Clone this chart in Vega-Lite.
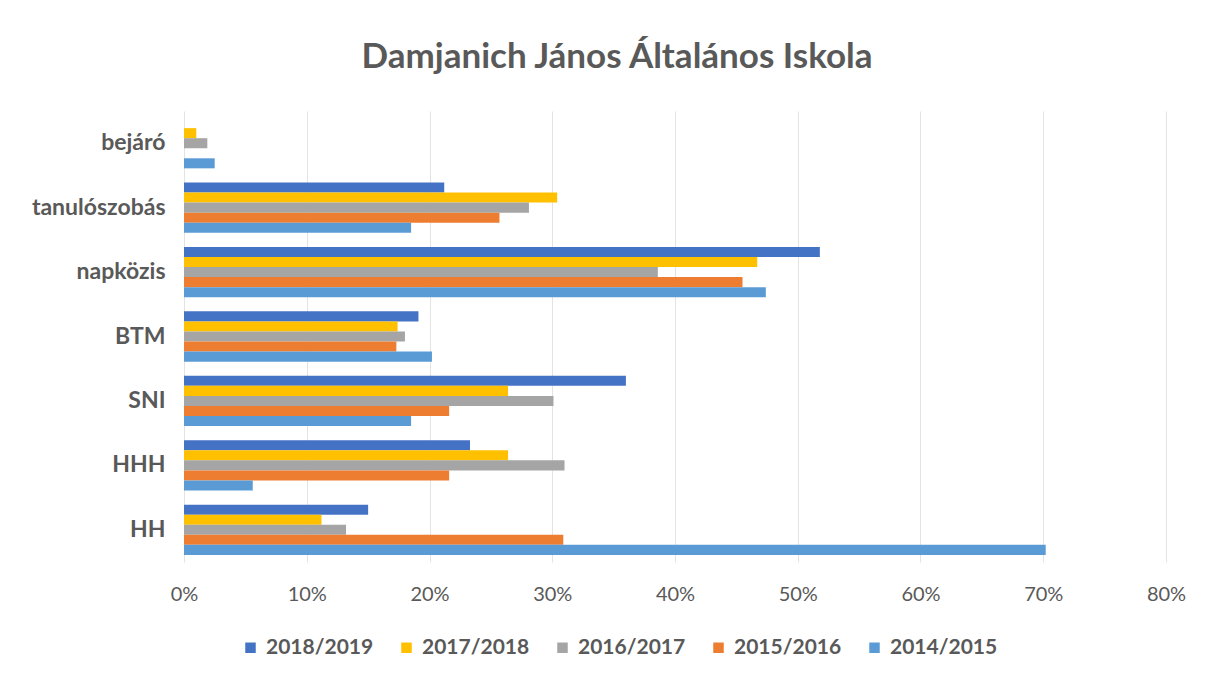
{
  "$schema": "https://vega.github.io/schema/vega-lite/v6.json",
  "width": 982,
  "height": 451,
  "autosize": {"type": "none"},
  "padding": {"left": 184, "top": 111, "right": 42, "bottom": 116},
  "background": "white",
  "title": {
    "text": "Damjanich János Általános Iskola",
    "font": "Lato",
    "fontSize": 35,
    "fontWeight": "bold",
    "color": "#595959",
    "anchor": "middle",
    "dx": -58,
    "offset": 36
  },
  "config": {
    "view": {"stroke": null},
    "font": "Lato"
  },
  "data": {
    "values": [
      {"cat": "bejáró", "year": "2017/2018", "v": 0.010},
      {"cat": "bejáró", "year": "2016/2017", "v": 0.019},
      {"cat": "bejáró", "year": "2014/2015", "v": 0.025},
      {"cat": "tanulószobás", "year": "2018/2019", "v": 0.212},
      {"cat": "tanulószobás", "year": "2017/2018", "v": 0.304},
      {"cat": "tanulószobás", "year": "2016/2017", "v": 0.281},
      {"cat": "tanulószobás", "year": "2015/2016", "v": 0.257},
      {"cat": "tanulószobás", "year": "2014/2015", "v": 0.185},
      {"cat": "napközis", "year": "2018/2019", "v": 0.518},
      {"cat": "napközis", "year": "2017/2018", "v": 0.467},
      {"cat": "napközis", "year": "2016/2017", "v": 0.386},
      {"cat": "napközis", "year": "2015/2016", "v": 0.455},
      {"cat": "napközis", "year": "2014/2015", "v": 0.474},
      {"cat": "BTM", "year": "2018/2019", "v": 0.191},
      {"cat": "BTM", "year": "2017/2018", "v": 0.174},
      {"cat": "BTM", "year": "2016/2017", "v": 0.180},
      {"cat": "BTM", "year": "2015/2016", "v": 0.173},
      {"cat": "BTM", "year": "2014/2015", "v": 0.202},
      {"cat": "SNI", "year": "2018/2019", "v": 0.360},
      {"cat": "SNI", "year": "2017/2018", "v": 0.264},
      {"cat": "SNI", "year": "2016/2017", "v": 0.301},
      {"cat": "SNI", "year": "2015/2016", "v": 0.216},
      {"cat": "SNI", "year": "2014/2015", "v": 0.185},
      {"cat": "HHH", "year": "2018/2019", "v": 0.233},
      {"cat": "HHH", "year": "2017/2018", "v": 0.264},
      {"cat": "HHH", "year": "2016/2017", "v": 0.310},
      {"cat": "HHH", "year": "2015/2016", "v": 0.216},
      {"cat": "HHH", "year": "2014/2015", "v": 0.056},
      {"cat": "HH", "year": "2018/2019", "v": 0.150},
      {"cat": "HH", "year": "2017/2018", "v": 0.112},
      {"cat": "HH", "year": "2016/2017", "v": 0.132},
      {"cat": "HH", "year": "2015/2016", "v": 0.309},
      {"cat": "HH", "year": "2014/2015", "v": 0.702}
    ]
  },
  "mark": {"type": "bar"},
  "encoding": {
    "y": {
      "field": "cat",
      "type": "nominal",
      "sort": ["bejáró", "tanulószobás", "napközis", "BTM", "SNI", "HHH", "HH"],
      "scale": {"paddingInner": 0.22, "paddingOuter": 0.11},
      "axis": {
        "title": null,
        "domain": false,
        "ticks": false,
        "labelPadding": 19,
        "labelFont": "Lato",
        "labelFontSize": 23,
        "labelFontWeight": "bold",
        "labelColor": "#595959"
      }
    },
    "yOffset": {
      "field": "year",
      "type": "nominal",
      "sort": ["2018/2019", "2017/2018", "2016/2017", "2015/2016", "2014/2015"]
    },
    "x": {
      "field": "v",
      "type": "quantitative",
      "scale": {"domain": [0, 0.8], "nice": false},
      "axis": {
        "title": null,
        "format": ".0%",
        "values": [0, 0.1, 0.2, 0.3, 0.4, 0.5, 0.6, 0.7, 0.8],
        "domain": false,
        "ticks": false,
        "grid": true,
        "gridColor": "#e3e3e3",
        "gridWidth": 1,
        "labelFlush": false,
        "labelPadding": 22,
        "labelFont": "Lato",
        "labelFontSize": 20,
        "labelColor": "#595959"
      }
    },
    "color": {
      "field": "year",
      "type": "nominal",
      "sort": ["2018/2019", "2017/2018", "2016/2017", "2015/2016", "2014/2015"],
      "scale": {
        "domain": ["2018/2019", "2017/2018", "2016/2017", "2015/2016", "2014/2015"],
        "range": ["#4472C4", "#FFC000", "#A5A5A5", "#ED7D31", "#5B9BD5"]
      },
      "legend": {
        "title": null,
        "orient": "none",
        "direction": "horizontal",
        "legendX": 56,
        "legendY": 526,
        "columns": 5,
        "columnPadding": 22,
        "symbolType": "square",
        "symbolSize": 110,
        "symbolStrokeWidth": 0,
        "labelFont": "Lato",
        "labelFontSize": 21,
        "labelFontWeight": "bold",
        "labelColor": "#595959",
        "labelOffset": 5
      }
    }
  }
}
